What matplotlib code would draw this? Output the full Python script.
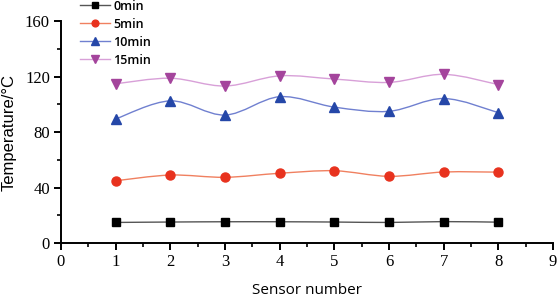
import numpy as np
import matplotlib
matplotlib.use("Agg")
import matplotlib.pyplot as plt
from matplotlib.path import Path
from matplotlib.patches import PathPatch
from matplotlib.lines import Line2D
from matplotlib.ticker import MultipleLocator

sensors = [1, 2, 3, 4, 5, 6, 7, 8]
t0 = [15.0, 15.3, 15.5, 15.5, 15.3, 15.0, 15.6, 15.2]
t5 = [45.0, 49.1, 47.5, 50.4, 52.2, 48.2, 51.3, 51.2]
t10 = [89.5, 102.5, 92.3, 105.5, 98.0, 95.0, 104.2, 94.0]
t15 = [114.8, 118.8, 113.2, 120.5, 118.2, 115.8, 121.6, 114.2]
labels = ["0min", "5min", "10min", "15min"]

series = [t0, t5, t10, t15]
line_colors = ["#555555", "#f08060", "#7080d0", "#d8a0d8"]
mk_colors = ["#000000", "#e8321e", "#2547a8", "#a4449c"]
markers = ["s", "o", "^", "v"]
msizes = [6, 6.5, 7, 7]

fig = plt.figure(figsize=(5.57, 2.98), dpi=100)
ax = fig.add_axes([0.1095, 0.1836, 0.8835, 0.746])


def smooth_path(xs, ys):
    xs = np.asarray(xs, float)
    ys = np.asarray(ys, float)
    n = len(xs)
    verts = [(xs[0], ys[0])]
    codes = [Path.MOVETO]
    for i in range(n - 1):
        p0 = (xs[i - 1], ys[i - 1]) if i > 0 else (xs[i], ys[i])
        p1 = (xs[i], ys[i])
        p2 = (xs[i + 1], ys[i + 1])
        p3 = (xs[i + 2], ys[i + 2]) if i + 2 < n else (xs[i + 1], ys[i + 1])
        c1 = (p1[0] + (p2[0] - p0[0]) / 6, p1[1] + (p2[1] - p0[1]) / 6)
        c2 = (p2[0] - (p3[0] - p1[0]) / 6, p2[1] - (p3[1] - p1[1]) / 6)
        verts += [c1, c2, p2]
        codes += [Path.CURVE4] * 3
    return Path(verts, codes)


handles = []
for ys, lc, mc, m, ms, lab in zip(series, line_colors, mk_colors, markers, msizes, labels):
    patch = PathPatch(smooth_path(sensors, ys), facecolor="none", edgecolor=lc,
                      lw=1.0, transform=ax.transData, zorder=2)
    ax.add_patch(patch)
    ax.plot(sensors, ys, linestyle="none", marker=m, color=mc, markersize=ms,
            markeredgecolor=mc, zorder=3, clip_on=False)
    handles.append(Line2D([], [], color=lc, lw=1.0, marker=m, markersize=ms * 0.75,
                          markerfacecolor=mc, markeredgecolor=mc))

ax.set_xlim(0, 9)
ax.set_ylim(0, 160)
ax.xaxis.set_major_locator(MultipleLocator(1))
ax.xaxis.set_minor_locator(MultipleLocator(0.5))
ax.yaxis.set_major_locator(MultipleLocator(40))
ax.yaxis.set_minor_locator(MultipleLocator(20))
for s in ["top", "right"]:
    ax.spines[s].set_visible(False)
for s in ["left", "bottom"]:
    ax.spines[s].set_linewidth(1.4)
ax.tick_params(which="major", direction="out", length=5, width=1.4, pad=3)
ax.tick_params(which="minor", direction="out", length=3, width=1.2)
for lab in ax.get_xticklabels() + ax.get_yticklabels():
    lab.set_fontfamily("Liberation Serif")
    lab.set_fontsize(12)

ax.set_xlabel("Sensor number", fontfamily="Open Sans", fontsize=11, labelpad=9)
ax.set_ylabel("Temperature/°C", fontfamily="Liberation Sans", fontsize=12, labelpad=6)

leg = fig.legend(handles, labels, loc="upper left",
                 bbox_to_anchor=(71 / 557, 1 + 9 / 298), frameon=False,
                 prop={"family": "Open Sans", "size": 9, "weight": "semibold"},
                 handlelength=2.4, labelspacing=0.4, handletextpad=0.3,
                 borderpad=0.2)

fig.savefig("out.png", dpi=100)
